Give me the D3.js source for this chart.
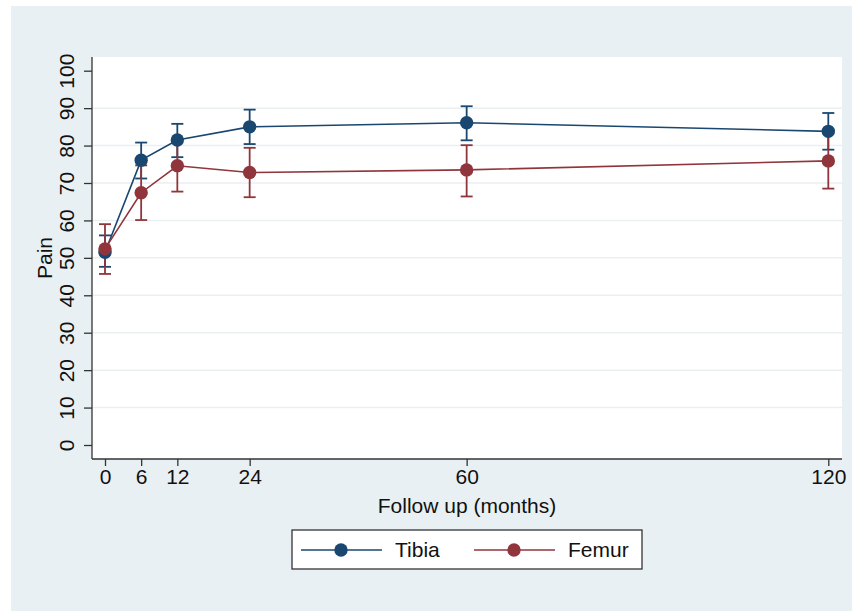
<!DOCTYPE html>
<html>
<head>
<meta charset="utf-8">
<script src="https://cdn.jsdelivr.net/npm/d3@7"></script>
<style>
  body { margin: 0; background: #fff; }
  text { font-family: "Liberation Sans", Arial, sans-serif; fill: #111; }
</style>
</head>
<body>
<script>
// data
var months = [0, 6, 12, 24, 60, 120];
var tibiaMean = [51.5, 76.1, 81.5, 85.0, 86.1, 83.8];
var tibiaLo   = [47.6, 71.2, 76.9, 80.4, 81.4, 78.9];
var tibiaHi   = [56.0, 80.8, 85.8, 89.6, 90.5, 88.7];
var femurMean = [52.4, 67.4, 74.6, 72.8, 73.5, 75.9];
var femurLo   = [45.7, 60.1, 67.7, 66.2, 66.4, 68.5];
var femurHi   = [59.0, 74.7, 81.5, 79.4, 80.1, 83.3];
var yTicks = [0, 10, 20, 30, 40, 50, 60, 70, 80, 90, 100];
var gridTicks = [10, 20, 30, 40, 50, 60, 70, 80, 90];

var series = [
  {name: "Tibia", color: "#1a476f", mean: tibiaMean, lo: tibiaLo, hi: tibiaHi},
  {name: "Femur", color: "#90353b", mean: femurMean, lo: femurLo, hi: femurHi}
];

var width = 852, height = 611;
var plot = {left: 92, right: 842, top: 57, bottom: 459};

var x = d3.scaleLinear().domain([0, 120]).range([105, 828.3]);
var y = d3.scaleLinear().domain([0, 100]).range([445, 70.7]);

var svg = d3.select("body").append("svg")
    .attr("width", width)
    .attr("height", height);

// background panels
svg.append("rect").attr("x", 11).attr("y", 6)
   .attr("width", width - 11).attr("height", height - 6)
   .attr("fill", "#e9f0f3");
svg.append("rect").attr("x", plot.left).attr("y", plot.top)
   .attr("width", plot.right - plot.left).attr("height", plot.bottom - plot.top)
   .attr("fill", "#fff");

// grid
svg.append("g").selectAll("line")
   .data(gridTicks).join("line")
   .attr("x1", plot.left).attr("x2", plot.right)
   .attr("y1", d => y(d)).attr("y2", d => y(d))
   .attr("stroke", "#eaeff2").attr("stroke-width", 1.5);

// Y axis
var yAxis = svg.append("g")
   .attr("transform", `translate(${plot.left},0)`)
   .call(d3.axisLeft(y).tickValues(yTicks).tickSize(8).tickPadding(0).tickFormat(d3.format("d")));
yAxis.select(".domain").attr("d", `M0,${plot.top}V${plot.bottom}`).attr("stroke", "#333").attr("stroke-width", 1.3);
yAxis.selectAll(".tick line").attr("stroke", "#333").attr("stroke-width", 1.3);
yAxis.selectAll(".tick text")
   .attr("transform", "translate(-25,0) rotate(-90)")
   .attr("x", 0).attr("y", 0).attr("dy", "0.35em")
   .style("text-anchor", "middle")
   .style("font-size", "21px");

// X axis
var xAxis = svg.append("g")
   .attr("transform", `translate(0,${plot.bottom})`)
   .call(d3.axisBottom(x).tickValues(months).tickSize(7).tickPadding(3));
xAxis.select(".domain").attr("d", `M${plot.left},0H${plot.right}`).attr("stroke", "#333").attr("stroke-width", 1.3);
xAxis.selectAll(".tick line").attr("stroke", "#333").attr("stroke-width", 1.3);
xAxis.selectAll(".tick text").style("font-size", "21px");

// labels
svg.append("text")
   .attr("transform", "rotate(-90)")
   .attr("x", -(plot.top + plot.bottom) / 2)
   .attr("y", 52)
   .style("text-anchor", "middle")
   .style("font-size", "21px")
   .text("Pain");

svg.append("text")
   .attr("x", (plot.left + plot.right) / 2)
   .attr("y", 513)
   .style("text-anchor", "middle")
   .style("font-size", "21px")
   .text("Follow up (months)");

// series
var line = d3.line()
    .x(d => x(d.m))
    .y(d => y(d.v));

var pointsOf = s => months.map((m, i) => ({m: m, v: s.mean[i], lo: s.lo[i], hi: s.hi[i]}));

// error bars first
series.forEach(function(s) {
  var eb = svg.append("g").selectAll(".eb").data(pointsOf(s)).join("g").attr("class", "eb")
    .attr("stroke", s.color).attr("stroke-width", 1.8);
  eb.append("line")
    .attr("x1", d => x(d.m)).attr("x2", d => x(d.m))
    .attr("y1", d => y(d.lo)).attr("y2", d => y(d.hi));
  eb.append("line")
    .attr("x1", d => x(d.m) - 6).attr("x2", d => x(d.m) + 6)
    .attr("y1", d => y(d.lo)).attr("y2", d => y(d.lo));
  eb.append("line")
    .attr("x1", d => x(d.m) - 6).attr("x2", d => x(d.m) + 6)
    .attr("y1", d => y(d.hi)).attr("y2", d => y(d.hi));
});

// connected lines and markers
series.forEach(function(s) {
  var pts = pointsOf(s);
  var g = svg.append("g");
  g.append("path")
   .attr("d", line(pts))
   .attr("fill", "none")
   .attr("stroke", s.color)
   .attr("stroke-width", 1.6);
  g.selectAll("circle").data(pts).join("circle")
   .attr("cx", d => x(d.m)).attr("cy", d => y(d.v))
   .attr("r", 6.7)
   .attr("fill", s.color);
});

// legend
var legend = svg.append("g");
legend.append("rect")
   .attr("x", 292).attr("y", 530).attr("width", 350).attr("height", 39)
   .attr("fill", "#fff").attr("stroke", "#333").attr("stroke-width", 1.3);
var legItems = [{x0: 301, tx: 395}, {x0: 474, tx: 568}];
series.forEach(function(s, i) {
  var li = legItems[i];
  legend.append("line")
     .attr("x1", li.x0).attr("x2", li.x0 + 81)
     .attr("y1", 550).attr("y2", 550)
     .attr("stroke", s.color).attr("stroke-width", 1.6);
  legend.append("circle")
     .attr("cx", li.x0 + 40).attr("cy", 550).attr("r", 6.7)
     .attr("fill", s.color);
  legend.append("text")
     .attr("x", li.tx).attr("y", 557)
     .style("font-size", "21px")
     .text(s.name);
});
</script>
</body>
</html>
